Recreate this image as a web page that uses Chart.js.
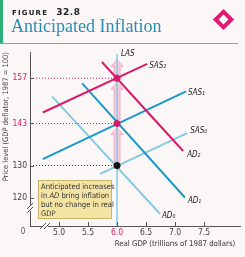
<!DOCTYPE html>
<html>
<head>
<meta charset="utf-8">
<script src="https://cdn.jsdelivr.net/npm/chart.js@4.4.1/dist/chart.umd.min.js"></script>
<style>
  html, body { margin: 0; padding: 0; background: #fbf7f6; }
  #wrap { position: relative; width: 245px; height: 257px; overflow: hidden; }
  #chart { position: absolute; left: 0; top: 0; }
  .bar { position: absolute; left: 0; top: 0; width: 3px; height: 44px; background: #2fb07a; }
  .rule { position: absolute; left: 0; top: 43px; width: 238px; height: 1px; background: #9a9a9a; }
  .fig { position: absolute; left: 12px; top: 7px; font: bold 7px 'DejaVu Sans', sans-serif; letter-spacing: 1.2px; color: #222; }
  .fig b { font-size: 9px; letter-spacing: 0.5px; margin-left: 8px; }
  .title { position: absolute; left: 11px; top: 16px; font: 18px 'Liberation Serif', serif; color: #2a8db4; white-space: nowrap; }
  .diamond { position: absolute; left: 216px; top: 12px; width: 15px; height: 15px; background: #e0196f; transform: rotate(45deg); }
  .diamond i { position: absolute; left: 4px; top: 4px; width: 7px; height: 7px; background: #fff; }
  .note { position: absolute; left: 38px; top: 180px; width: 70px; height: 36px; padding: 1px 0 0 2px;
          background: #f4e4a4; border: 1px solid #c9b46a; font: 7.6px 'DejaVu Sans Condensed', 'DejaVu Sans', sans-serif;
          line-height: 9px; color: #333; white-space: nowrap; }
</style>
</head>
<body>
<div id="wrap">
  <canvas id="chart" width="245" height="257"></canvas>
  <div class="bar"></div>
  <div class="rule"></div>
  <div class="fig">FIGURE<b>32.8</b></div>
  <div class="title">Anticipated Inflation</div>
  <div class="diamond"><i></i></div>
  <div class="note">Anticipated increases<br>in <i>AD</i> bring inflation<br>but no change in real<br>GDP</div>
</div>
<script>
// axis ticks
const xTicks = [5.0, 5.5, 6.0, 6.5, 7.0, 7.5];
const yTicks = [120, 130, 143, 157];
const hotX = [6.0];
const hotY = [143, 157];

// curves: [realGDP, priceLevel] end points
const las = [[6.0, 111.3], [6.0, 164.5]];
const sas0 = [[5.71, 127.4], [7.21, 140.0]];
const sas1 = [[4.72, 132.0], [7.19, 152.9]];
const sas2 = [[4.72, 146.4], [6.52, 161.4]];
const ad0 = [[4.88, 151.4], [6.74, 115.1]];
const ad1 = [[5.40, 155.4], [7.17, 120.1]];
const ad2 = [[5.74, 162.0], [7.14, 134.5]];

// equilibria on LAS
const eqGdp = 6.0;
const eqPrice = [130, 143, 157];

const magenta = '#d81b68';
const blue = '#1a98c8';
const light = '#86c9e2';
const sans = "'DejaVu Sans Condensed', 'DejaVu Sans', sans-serif";
const xTitle = 'Real GDP (trillions of 1987 dollars)';

const pts = arr => arr.map(p => ({ x: p[0], y: p[1] }));
const line = (label, arr, color, w) => ({
  label, data: pts(arr), borderColor: color, borderWidth: w,
  showLine: true, pointRadius: 0, fill: false
});
const guide = (price, color) => ({
  label: 'guide' + price, data: [{ x: 4.5, y: price }, { x: eqGdp, y: price }],
  borderColor: color, borderWidth: 1, borderDash: [1, 2], showLine: true, pointRadius: 0
});

// label positions are offsets from line end points
const curveLabels = [
  { text: 'LAS', at: las[1], dx: 4, dy: 0 },
  { text: 'SAS₂', at: sas2[1], dx: 2, dy: 2 },
  { text: 'SAS₁', at: sas1[1], dx: 2, dy: 1 },
  { text: 'SAS₀', at: sas0[1], dx: 3, dy: -2 },
  { text: 'AD₂', at: ad2[1], dx: 4, dy: 4 },
  { text: 'AD₁', at: ad1[1], dx: 3, dy: 3 },
  { text: 'AD₀', at: ad0[1], dx: 2, dy: 2 }
];

const extras = {
  id: 'extras',
  beforeDatasetsDraw(chart) {
    const { ctx, scales: { x, y } } = chart;
    const px = x.getPixelForValue(eqGdp);
    const stops = eqPrice.concat([164]);
    ctx.save();
    for (let i = 0; i < stops.length - 1; i++) {
      const y0 = y.getPixelForValue(stops[i]) - 4;
      const y1 = y.getPixelForValue(stops[i + 1]) + 4;
      ctx.fillStyle = '#f7cadb';
      ctx.strokeStyle = '#f0afc8';
      ctx.lineWidth = 1;
      ctx.beginPath();
      ctx.moveTo(px - 3, y0);
      ctx.lineTo(px - 3, y1 + 7);
      ctx.lineTo(px - 6, y1 + 7);
      ctx.lineTo(px, y1);
      ctx.lineTo(px + 6, y1 + 7);
      ctx.lineTo(px + 3, y1 + 7);
      ctx.lineTo(px + 3, y0);
      ctx.closePath();
      ctx.fill();
      ctx.stroke();
    }
    ctx.restore();
  },
  afterDraw(chart) {
    const { ctx, chartArea: a, scales: { x, y } } = chart;
    ctx.save();
    ctx.strokeStyle = '#555';
    ctx.lineWidth = 1;
    xTicks.forEach(v => {
      const p = Math.round(x.getPixelForValue(v)) + 0.5;
      ctx.beginPath(); ctx.moveTo(p, a.bottom); ctx.lineTo(p, a.bottom - 4); ctx.stroke();
    });
    yTicks.forEach(v => {
      const p = Math.round(y.getPixelForValue(v)) + 0.5;
      ctx.beginPath(); ctx.moveTo(a.left, p); ctx.lineTo(a.left + 4, p); ctx.stroke();
    });
    // axis breaks
    ctx.fillStyle = '#fbf7f6';
    const bx = a.left + 15, by = a.bottom - 18;
    ctx.fillRect(bx - 2, a.bottom - 2, 5, 4);
    ctx.fillRect(a.left - 2, by - 2, 4, 5);
    [[bx - 2, a.bottom], [bx + 2, a.bottom]].forEach(([cx, cy]) => {
      ctx.beginPath(); ctx.moveTo(cx - 3, cy + 3); ctx.lineTo(cx + 3, cy - 3); ctx.stroke();
    });
    [[a.left, by - 2], [a.left, by + 2]].forEach(([cx, cy]) => {
      ctx.beginPath(); ctx.moveTo(cx - 3, cy + 3); ctx.lineTo(cx + 3, cy - 3); ctx.stroke();
    });
    ctx.fillStyle = '#555';
    ctx.font = '8px ' + sans;
    ctx.textAlign = 'center';
    ctx.textBaseline = 'top';
    ctx.fillText('0', a.left - 7, a.bottom + 2);
    // x axis title, set under the right part of the axis
    ctx.fillStyle = '#333';
    ctx.font = '7.8px ' + sans;
    ctx.textBaseline = 'middle';
    ctx.fillText(xTitle, x.getPixelForValue(7.0), a.bottom + 18);
    // curve labels
    ctx.fillStyle = '#222';
    ctx.font = 'italic 8px ' + sans;
    ctx.textAlign = 'left';
    curveLabels.forEach(l => {
      ctx.fillText(l.text, x.getPixelForValue(l.at[0]) + l.dx, y.getPixelForValue(l.at[1]) + l.dy);
    });
    ctx.restore();
  }
};

new Chart(document.getElementById('chart'), {
  type: 'scatter',
  data: {
    datasets: [
      {
        label: 'equilibria', data: eqPrice.map(v => ({ x: eqGdp, y: v })),
        pointRadius: 3.5, pointBackgroundColor: ['#111', magenta, magenta], pointBorderWidth: 0
      },
      line('SAS2', sas2, magenta, 2),
      line('AD2', ad2, magenta, 2),
      line('SAS1', sas1, blue, 2),
      line('AD1', ad1, blue, 2),
      line('SAS0', sas0, light, 2),
      line('AD0', ad0, light, 2),
      line('LAS', las, light, 1.5),
      guide(157, magenta),
      guide(143, magenta),
      guide(130, '#444')
    ]
  },
  options: {
    responsive: false,
    animation: false,
    layout: { padding: { top: 52, right: 5, left: 0, bottom: 0 } },
    plugins: { legend: { display: false }, tooltip: { enabled: false } },
    scales: {
      x: {
        type: 'linear', min: 4.5, max: 8.12,
        afterFit: s => { s.height = 31; },
        afterBuildTicks: s => { s.ticks = xTicks.map(v => ({ value: v })); },
        grid: { drawOnChartArea: false, drawTicks: false },
        border: { color: '#555' },
        ticks: {
          padding: 2,
          font: { family: sans, size: 8.5 },
          color: c => hotX.includes(c.tick.value) ? magenta : '#444',
          callback: v => v.toFixed(1)
        }
      },
      y: {
        type: 'linear', min: 111.3, max: 165.1,
        afterFit: s => { s.width = 30; },
        afterBuildTicks: s => { s.ticks = yTicks.map(v => ({ value: v })); },
        grid: { drawOnChartArea: false, drawTicks: false },
        border: { color: '#555' },
        ticks: {
          padding: 3,
          font: { family: sans, size: 8.5 },
          color: c => hotY.includes(c.tick.value) ? magenta : '#444'
        },
        title: {
          display: true, align: 'end', text: 'Price level (GDP deflator, 1987 = 100)',
          color: '#444', font: { family: sans, size: 7.5 }, padding: { top: 2, bottom: 0 }
        }
      }
    }
  },
  plugins: [extras]
});
</script>
</body>
</html>
